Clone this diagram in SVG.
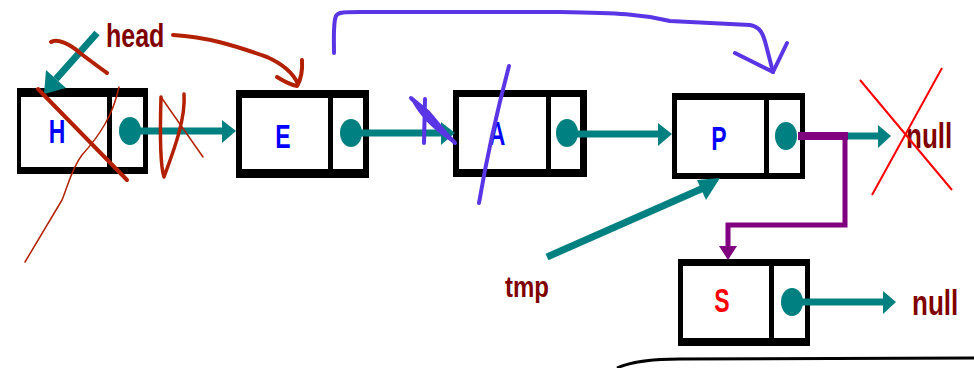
<svg xmlns="http://www.w3.org/2000/svg" width="974" height="368" viewBox="0 0 974 368">
<defs>
<style>
.box{fill:#000}
.in{fill:#fff}
.dot{fill:#008080}
.tl{stroke:#008080;stroke-width:7;fill:none}
.th{fill:#008080}
.let{font-family:"Liberation Sans",Arial,sans-serif;font-weight:bold;font-size:23px;text-anchor:middle}
.lbl{font-family:"Liberation Sans",Arial,sans-serif;font-weight:bold;fill:#800000}
.rd{stroke:#b32000;fill:none;stroke-linecap:round;stroke-linejoin:round}
.bl{stroke:#5a35e6;fill:none;stroke-linecap:round;stroke-linejoin:round;stroke-width:4}
.pu{stroke:#800080;fill:none}
</style>
</defs>
<rect width="974" height="368" fill="#fff"/>

<g id="node-H">
<rect class="box" x="17" y="88" width="131" height="86"/>
<rect class="in" x="21" y="97" width="122" height="70"/>
<rect class="box" x="107" y="95" width="5" height="74"/>
<text class="let" fill="#0000ff" transform="translate(57,143) scale(1,1.45)">H</text>
</g>
<g id="node-E">
<rect class="box" x="236" y="90" width="133" height="88"/>
<rect class="in" x="242" y="98" width="121" height="71"/>
<rect class="box" x="328" y="96" width="5" height="75"/>
<text class="let" fill="#0000ff" transform="translate(283,148) scale(1,1.45)">E</text>
</g>
<g id="node-A">
<rect class="box" x="453" y="90" width="134" height="87"/>
<rect class="in" x="459" y="97" width="121" height="72"/>
<rect class="box" x="546" y="95" width="5" height="76"/>
<text class="let" fill="#0000ff" transform="translate(497,145) scale(1,1.45)">A</text>
</g>
<g id="node-P">
<rect class="box" x="672" y="93" width="133" height="86"/>
<rect class="in" x="677" y="100" width="123" height="73"/>
<rect class="box" x="764" y="98" width="5" height="77"/>
<text class="let" fill="#0000ff" transform="translate(719,150) scale(1,1.45)">P</text>
</g>
<g id="node-S">
<rect class="box" x="678" y="259" width="132" height="87"/>
<rect class="in" x="683" y="266" width="122" height="72"/>
<rect class="box" x="769" y="264" width="5" height="76"/>
<text class="let" fill="#ff0000" transform="translate(722,312) scale(1,1.45)">S</text>
</g>

<g id="label-head"><text class="lbl" font-size="25" transform="translate(106,47) scale(1,1.3)">head</text></g>
<g id="label-tmp"><text class="lbl" font-size="24" transform="translate(505,297) scale(1,1.2)">tmp</text></g>
<g id="null-1"><text class="lbl" font-size="26" transform="translate(906,148) scale(1,1.35)">null</text></g>
<g id="null-2"><text class="lbl" font-size="26" transform="translate(912,315) scale(1,1.35)">null</text></g>

<g id="connectors">
<!-- head pointer -->
<line class="tl" x1="97" y1="33" x2="56" y2="79"/>
<polygon class="th" points="46,70 66,88 44,94"/>
<!-- H -> E -->
<ellipse class="dot" cx="130" cy="131" rx="11" ry="14"/>
<line class="tl" x1="130" y1="131" x2="224" y2="131"/>
<polygon class="th" points="222,120 236,131 222,143"/>
<!-- E -> A -->
<ellipse class="dot" cx="351" cy="133" rx="11" ry="14"/>
<line class="tl" x1="351" y1="133" x2="443" y2="133"/>
<polygon class="th" points="441,122 455,133 441,145"/>
<!-- A -> P -->
<ellipse class="dot" cx="567" cy="133" rx="11" ry="14"/>
<line class="tl" x1="567" y1="134" x2="660" y2="134"/>
<polygon class="th" points="658,123 672,134 658,146"/>
<!-- P -> null -->
<ellipse class="dot" cx="786" cy="136" rx="11" ry="14"/>
<line class="tl" x1="800" y1="136" x2="880" y2="136"/>
<polygon class="th" points="878,125 891,136 878,148"/>
<!-- S -> null -->
<ellipse class="dot" cx="792" cy="302" rx="11" ry="14"/>
<line class="tl" x1="792" y1="302" x2="885" y2="302"/>
<polygon class="th" points="883,291 896,302 883,314"/>
<!-- tmp pointer -->
<line class="tl" stroke-width="6" x1="547" y1="257" x2="708" y2="186"/>
<polygon class="th" points="697,180 720,178 706,200"/>
<!-- P -> S (purple) -->
<path class="pu" stroke-width="8" d="M798,136 H848"/>
<path class="pu" stroke-width="5" d="M845,134 V225 H728 V250"/>
<polygon fill="#800080" points="719,246 737,246 728,260"/>
</g>

<g id="annotations">
<!-- red pen -->
<path class="rd" stroke-width="4" d="M173,35 C207,37 233,45 267,57 C285,65 294,75 298,84"/>
<path class="rd" stroke-width="4" d="M277,77 Q290,85 297,86 Q303,76 302,60"/>
<path class="rd" stroke-width="4" d="M51,42 C57,38 70,44 80,53 C92,62 100,68 107,73"/>
<path class="rd" stroke-width="4" d="M38,89 L127,180"/>
<path class="rd" stroke-width="1.5" d="M119,87 C113,115 100,135 82,155 C72,168 68,185 62,200 L25,262"/>
<path class="rd" stroke-width="3.5" d="M184,94 C186,120 172,155 164,177 C160,165 160,130 161,97"/>
<path class="rd" stroke-width="1.5" d="M161,97 L203,157"/>
<path stroke="#ff0000" stroke-width="2" fill="none" d="M860,80 L952,190 M942,68 L872,195"/>
<!-- blue pen -->
<path class="bl" d="M334,53 C334,40 333,22 336,16 C338,12 345,12 360,12 L560,12 C620,13 640,14 670,21 L750,25 C760,27 763,33 766,45 L773,72"/>
<path class="bl" d="M735,53 L773,72 L787,43"/>
<path class="bl" d="M509,66 C500,100 488,150 479,203"/>
<path class="bl" stroke-width="3" d="M455,143 L411,98 L428,112 L448,136 L414,101 C420,112 430,125 452,140 M425,99 L424,143"/>
<!-- black curve -->
<path d="M617,368 C630,362 650,359 680,359 L974,358" stroke="#000" stroke-width="3" fill="none"/>
</g>
</svg>
